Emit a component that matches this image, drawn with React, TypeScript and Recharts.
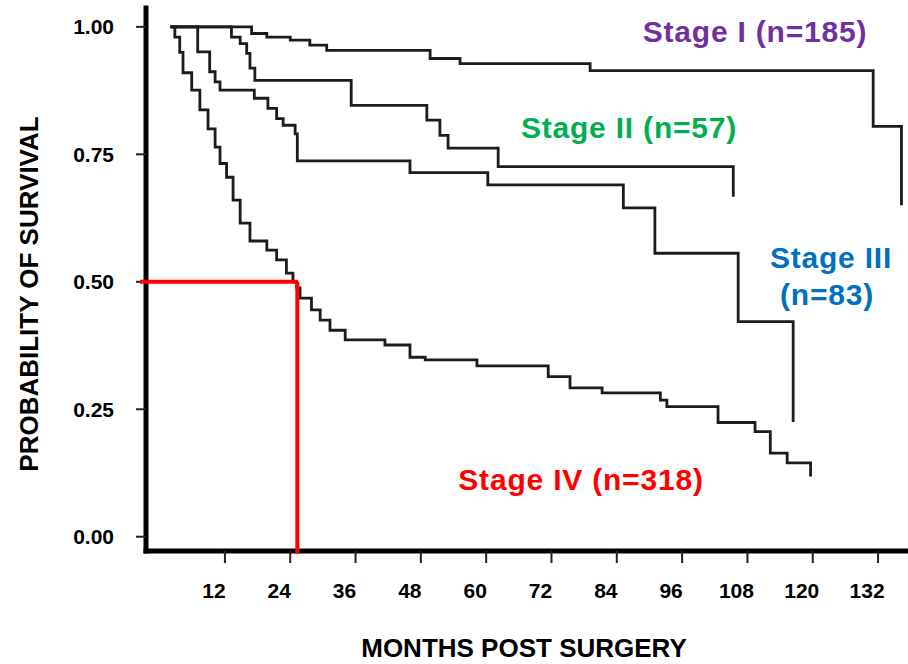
import { LineChart, Line, XAxis, YAxis, ReferenceLine } from "recharts";

// Kaplan-Meier survival by stage, months after surgery
const xTicks = [12, 24, 36, 48, 60, 72, 84, 96, 108, 120, 132];
const yTicks = [0, 0.25, 0.5, 0.75, 1];

const stage1Months = [2, 16.9, 19.7, 24.0, 27.6, 30.7, 49.7, 55.2, 79.1, 131.1, 136.3];
const stage1Surv = [1, 0.987, 0.98, 0.974, 0.964, 0.954, 0.938, 0.928, 0.914, 0.805, 0.65];

const stage2Months = [2, 13.2, 14.8, 16.0, 16.6, 17.5, 35.2, 49.1, 51.5, 53.0, 62.2, 105.4];
const stage2Surv = [1, 0.98, 0.967, 0.948, 0.919, 0.895, 0.846, 0.817, 0.787, 0.762, 0.726, 0.667];

const stage3Months = [2, 7.0, 9.2, 10.2, 11.1, 17.4, 19.9, 21.5, 22.7, 24.9, 25.3, 46.0, 60.3, 85.2, 91.0, 106.3, 116.4];
const stage3Surv = [1, 0.951, 0.912, 0.892, 0.876, 0.86, 0.84, 0.82, 0.807, 0.79, 0.737, 0.714, 0.69, 0.645, 0.556, 0.422, 0.225];

const stage4Months = [
  2, 2.8, 3.7, 4.3, 5.9, 7.4, 8.9, 10.2, 11.1, 12.3, 13.5, 14.8, 16.6, 19.7, 21.5, 23.3, 24.5, 25.2, 25.8,
  27.9, 29.5, 31.3, 34.1, 41.4, 46.0, 48.8, 58.3, 71.4, 75.4, 81.3, 92.0, 93.2, 102.6, 109.4, 112.2, 115.3, 119.6,
];
const stage4Surv = [
  1, 0.98, 0.95, 0.91, 0.876, 0.837, 0.8, 0.764, 0.732, 0.705, 0.66, 0.615, 0.58, 0.562, 0.543, 0.517, 0.5, 0.488, 0.468,
  0.445, 0.425, 0.405, 0.386, 0.376, 0.352, 0.347, 0.335, 0.314, 0.292, 0.282, 0.268, 0.255, 0.224, 0.206, 0.164, 0.145, 0.118,
];

// median survival for stage IV
const medianMonths = 25.3;
const medianSurv = 0.5;

const toPoints = (months: number[], surv: number[]) => months.map((m, i) => ({ m, s: surv[i] }));

const FONT = "'Liberation Sans', Arial, sans-serif";
const CURVE = "#1c1c1c";

export default function App() {
  const curves = [
    toPoints(stage1Months, stage1Surv),
    toPoints(stage2Months, stage2Surv),
    toPoints(stage3Months, stage3Surv),
    toPoints(stage4Months, stage4Surv),
  ];
  const tickStyle = { fill: "#000", fontSize: 21, fontWeight: 700, fontFamily: FONT };
  const labelStyle = { fontSize: 30, fontWeight: 700, fontFamily: FONT, letterSpacing: 0.8 };
  const titleStyle = { fontSize: 26, fontWeight: 700, fontFamily: FONT };

  return (
    <div style={{ position: "absolute", left: 0, top: 0, width: 908, height: 664, background: "#fff" }}>
      <LineChart width={908} height={664} margin={{ top: 8, right: 0, bottom: 0, left: 0 }}>
        <XAxis
          type="number"
          dataKey="m"
          domain={[-2.5, 137.5]}
          allowDataOverflow
          ticks={xTicks}
          height={113}
          axisLine={{ stroke: "#000", strokeWidth: 5, strokeLinecap: "square" }}
          tickLine={{ stroke: "#222", strokeWidth: 2 }}
          tickSize={12}
          tickMargin={20}
          tick={{ ...tickStyle, dx: -11 }}
        />
        <YAxis
          type="number"
          domain={[-0.028, 1.037]}
          allowDataOverflow
          ticks={yTicks}
          width={146}
          tickFormatter={(v: number) => v.toFixed(2)}
          axisLine={{ stroke: "#000", strokeWidth: 5, strokeLinecap: "square" }}
          tickLine={{ stroke: "#222", strokeWidth: 2 }}
          tickSize={10}
          tickMargin={22}
          tick={tickStyle}
        />
        {curves.map((pts, i) => (
          <Line
            key={i}
            data={pts}
            dataKey="s"
            type="stepAfter"
            stroke={CURVE}
            strokeWidth={2.8}
            dot={false}
            isAnimationActive={false}
          />
        ))}
        <ReferenceLine
          segment={[{ x: -3.6, y: medianSurv }, { x: medianMonths, y: medianSurv }]}
          stroke="#ff0000"
          strokeWidth={4}
          ifOverflow="visible"
          zIndex={1000}
        />
        <ReferenceLine
          segment={[{ x: medianMonths, y: medianSurv }, { x: medianMonths, y: -0.033 }]}
          stroke="#ff0000"
          strokeWidth={4}
          ifOverflow="visible"
          zIndex={1000}
        />
        <text x={755} y={42} textAnchor="middle" fill="#7030a0" style={labelStyle}>Stage I (n=185)</text>
        <text x={629} y={138} textAnchor="middle" fill="#00b050" style={labelStyle}>Stage II (n=57)</text>
        <text x={831} y={268} textAnchor="middle" fill="#0070c0" style={labelStyle}>Stage III</text>
        <text x={827} y={305} textAnchor="middle" fill="#0070c0" style={labelStyle}>(n=83)</text>
        <text x={581} y={490} textAnchor="middle" fill="#ff0000" style={labelStyle}>Stage IV (n=318)</text>
        <text x={524} y={657} textAnchor="middle" fill="#000" style={titleStyle}>
          MONTHS POST SURGERY
        </text>
        <text x={38} y={294} textAnchor="middle" transform="rotate(-90 38 294)" fill="#000" style={titleStyle}>
          PROBABILITY OF SURVIVAL
        </text>
      </LineChart>
    </div>
  );
}
